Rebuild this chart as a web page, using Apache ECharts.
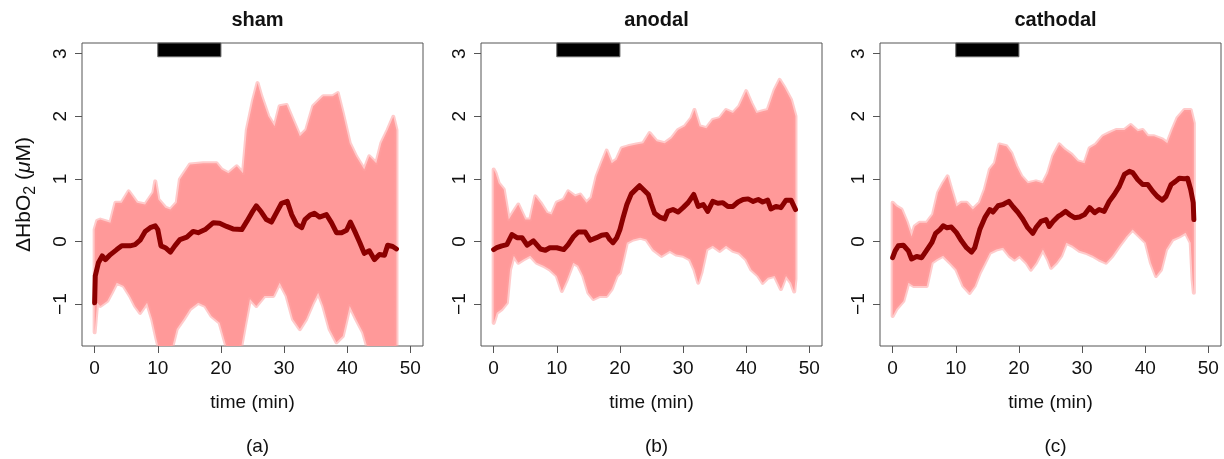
<!DOCTYPE html>
<html>
<head>
<meta charset="utf-8">
<script src="https://cdn.jsdelivr.net/npm/echarts@6/dist/echarts.min.js"></script>
<style>
html,body{margin:0;padding:0;background:#fff;}
#c{width:1224px;height:459px;}
</style>
</head>
<body>
<div id="c"></div>
<script>
// ---------------- data ----------------
const panelTitles = ['sham', 'anodal', 'cathodal'];
const panelTags = ['(a)', '(b)', '(c)'];
const xTicks = [0, 10, 20, 30, 40, 50];
const yTicks = [-1, 0, 1, 2, 3];
const stimStart = 10, stimEnd = 20;   // black stimulation bar (min)
const stimBarBottom = 2.95;

// sham: mean trace [time, value]
const shamMean = [[0,-0.98],[0.1,-0.55],[0.6,-0.34],[1.2,-0.23],[1.7,-0.29],[2.5,-0.21],[3.5,-0.13],[4.3,-0.07],[5.6,-0.07],[6.4,-0.05],[7.2,0.02],[8.0,0.16],[8.8,0.22],[9.6,0.25],[10,0.19],[10.5,-0.07],[11.2,-0.10],[12,-0.17],[12.7,-0.07],[13.5,0.03],[14.6,0.07],[15.6,0.16],[16.4,0.14],[17.5,0.19],[18.8,0.30],[19.8,0.29],[20.9,0.24],[21.9,0.20],[23.3,0.19],[24.1,0.32],[24.9,0.46],[25.6,0.57],[26.4,0.47],[27.2,0.35],[28,0.31],[28.8,0.46],[29.6,0.61],[30.5,0.64],[31.2,0.43],[32,0.27],[32.8,0.22],[33.3,0.35],[34.1,0.42],[34.8,0.45],[35.6,0.39],[36.7,0.43],[37.5,0.30],[38.3,0.14],[39.1,0.14],[39.9,0.18],[40.5,0.31],[41.2,0.16],[42,-0.02],[42.7,-0.19],[43.5,-0.15],[44.3,-0.29],[45.1,-0.21],[45.9,-0.22],[46.4,-0.06],[47.2,-0.08],[47.8,-0.12]];
// sham: upper / lower edge of the individual-trace cloud
const shamHi = [[0,0.19],[0.4,0.33],[0.9,0.35],[2.5,0.30],[3.3,0.62],[4.3,0.62],[5.4,0.80],[6.7,0.62],[8.0,0.59],[9.3,0.78],[9.6,0.96],[10.1,0.67],[11.2,0.54],[12.0,0.51],[13.0,0.62],[13.5,0.99],[15.1,1.23],[17.2,1.25],[19.3,1.25],[20.1,1.15],[21.2,1.09],[22.5,1.20],[23.5,1.09],[24.1,1.78],[25.1,2.26],[25.8,2.53],[26.4,2.32],[27.5,2.0],[28.5,1.84],[29.3,2.16],[30.4,2.18],[31.4,1.94],[32.5,1.68],[33.5,1.78],[34.6,2.16],[36.2,2.32],[37.7,2.32],[38.5,2.37],[39.3,2.05],[40.4,1.57],[41.4,1.36],[42.7,1.15],[43.5,1.36],[44.6,1.25],[45.4,1.57],[46.4,1.78],[47.3,1.99],[47.8,1.78]];
const shamLo = [[0,-1.45],[0.4,-0.98],[0.9,-1.03],[2.0,-0.95],[2.7,-0.82],[3.5,-0.66],[4.6,-0.71],[5.6,-0.87],[6.4,-1.03],[7.2,-1.14],[8.3,-0.98],[9.1,-1.24],[9.8,-1.56],[10.4,-1.8],[12.0,-1.8],[13.0,-1.40],[14.1,-1.24],[15.1,-1.08],[16.4,-0.98],[17.5,-1.03],[18.5,-1.19],[19.8,-1.30],[21.2,-1.8],[23.0,-1.8],[23.8,-1.35],[24.6,-0.92],[25.6,-1.03],[26.9,-0.87],[28.3,-0.87],[29.3,-0.66],[30.4,-0.87],[31.4,-1.24],[32.5,-1.40],[33.5,-1.24],[34.6,-0.98],[35.4,-0.82],[36.2,-1.03],[37.2,-1.40],[38.3,-1.61],[39.3,-1.51],[40.4,-1.03],[41.4,-1.24],[42.5,-1.45],[43.5,-1.8],[47.8,-1.8]];

// anodal
const anodalMean = [[0,-0.13],[0.5,-0.10],[1.3,-0.07],[2.1,-0.05],[2.9,0.11],[3.7,0.06],[4.5,0.06],[5.3,-0.06],[6.3,0.01],[7.4,-0.12],[8.2,-0.14],[8.9,-0.10],[10,-0.10],[11.1,-0.13],[11.8,-0.05],[12.6,0.07],[13.4,0.15],[14.5,0.15],[15.3,0.02],[16.3,0.06],[17.1,0.10],[17.9,0.11],[18.4,0.03],[18.9,-0.02],[19.5,0.06],[20.0,0.19],[20.5,0.38],[21.1,0.59],[21.8,0.76],[22.6,0.84],[23.1,0.89],[23.7,0.83],[24.5,0.75],[25.0,0.59],[25.5,0.45],[26.3,0.39],[27.1,0.36],[27.6,0.48],[28.4,0.51],[29.2,0.47],[30.0,0.54],[30.8,0.62],[31.7,0.75],[32.4,0.56],[33.2,0.59],[33.9,0.48],[34.7,0.64],[35.5,0.61],[36.3,0.62],[37.1,0.56],[37.9,0.56],[38.7,0.63],[39.5,0.67],[40.3,0.68],[41.1,0.64],[41.9,0.67],[42.6,0.63],[43.4,0.66],[43.9,0.52],[44.7,0.56],[45.5,0.54],[46.3,0.66],[47.1,0.66],[47.8,0.51]];
const anodalHi = [[0,1.15],[0.3,1.09],[0.8,0.93],[1.6,0.83],[2.4,0.35],[3.2,0.48],[3.9,0.59],[5.0,0.35],[5.8,0.35],[6.6,0.72],[7.4,0.62],[8.4,0.46],[9.2,0.43],[10,0.62],[11.1,0.67],[11.8,0.80],[12.9,0.72],[13.7,0.75],[14.7,0.62],[15.5,0.70],[16.3,1.04],[17.1,1.25],[17.9,1.45],[18.7,1.25],[19.5,1.31],[20.3,1.49],[21.3,1.52],[22.6,1.55],[23.7,1.57],[24.7,1.73],[25.8,1.60],[27.1,1.57],[28.2,1.65],[29.2,1.78],[30.3,1.84],[31.3,1.97],[31.8,2.10],[32.6,1.84],[33.7,1.81],[34.7,1.94],[35.8,1.97],[36.8,2.10],[37.9,2.05],[38.9,2.16],[40.0,2.40],[40.8,2.21],[41.6,2.05],[42.6,2.08],[43.4,2.10],[44.5,2.42],[45.3,2.58],[46.1,2.45],[47.1,2.26],[47.8,2.0]];
const anodalLo = [[0,-1.30],[0.5,-1.14],[1.3,-1.08],[2.1,-0.98],[2.6,-0.45],[3.2,-0.23],[3.9,-0.34],[4.7,-0.29],[5.8,-0.23],[6.8,-0.34],[7.9,-0.39],[8.9,-0.45],[10,-0.55],[10.8,-0.79],[11.6,-0.61],[12.6,-0.34],[13.4,-0.39],[14.2,-0.55],[15.0,-0.82],[15.8,-0.92],[16.8,-0.87],[17.9,-0.87],[18.7,-0.76],[19.5,-0.55],[20,-0.50],[20.5,-0.29],[21.1,-0.02],[22.1,0.03],[23.2,0.06],[24.2,0.03],[25.3,-0.13],[26.6,-0.23],[27.9,-0.15],[28.9,-0.21],[30.0,-0.23],[31.1,-0.29],[31.8,-0.45],[32.4,-0.66],[32.9,-0.50],[33.7,-0.13],[34.7,-0.07],[35.8,-0.15],[36.8,-0.07],[37.9,-0.15],[38.9,-0.18],[40.0,-0.29],[40.8,-0.45],[41.9,-0.55],[42.6,-0.66],[43.4,-0.58],[44.5,-0.55],[45.5,-0.76],[46.3,-0.55],[47.1,-0.66],[47.6,-0.80],[47.8,-0.60]];

// cathodal
const cathodalMean = [[0,-0.26],[0.4,-0.15],[0.9,-0.07],[1.7,-0.06],[2.5,-0.15],[3.0,-0.28],[3.8,-0.24],[4.6,-0.26],[5.4,-0.14],[6.2,-0.02],[6.8,0.13],[7.5,0.19],[8.0,0.25],[8.6,0.22],[9.3,0.23],[10.1,0.14],[10.9,0.01],[11.7,-0.10],[12.5,-0.17],[13.0,-0.10],[13.8,0.19],[14.6,0.38],[15.4,0.51],[15.9,0.47],[16.7,0.57],[17.5,0.59],[18.0,0.62],[18.4,0.64],[19.1,0.55],[19.8,0.47],[20.6,0.36],[21.4,0.22],[22.2,0.13],[22.7,0.22],[23.5,0.32],[24.3,0.35],[24.8,0.24],[25.4,0.32],[26.2,0.40],[26.7,0.43],[27.4,0.48],[28.0,0.43],[28.8,0.38],[29.6,0.39],[30.4,0.43],[31.2,0.54],[32.0,0.46],[32.7,0.51],[33.5,0.48],[34.3,0.64],[35.1,0.75],[35.9,0.88],[36.7,1.07],[37.5,1.12],[38.0,1.10],[38.8,0.99],[39.6,0.91],[40.4,0.91],[41.2,0.80],[41.9,0.72],[42.7,0.66],[43.3,0.72],[44.1,0.91],[44.8,0.96],[45.4,1.01],[46.2,1.00],[46.7,1.01],[47.2,0.83],[47.6,0.62],[47.7,0.35]];
const cathodalHi = [[0,0.62],[0.6,0.56],[1.4,0.51],[2.2,0.32],[3.0,0.08],[3.5,0.24],[4.3,0.30],[5.4,0.30],[6.4,0.43],[7.2,0.78],[8.0,0.93],[8.7,1.04],[9.3,0.83],[10.1,0.56],[10.9,0.62],[11.7,0.62],[12.7,0.51],[13.8,0.62],[14.6,0.83],[15.4,1.15],[16.2,1.25],[16.9,1.55],[18.0,1.52],[18.8,1.41],[19.6,1.20],[20.4,1.04],[21.4,0.93],[22.7,0.96],[23.8,0.93],[24.6,1.09],[25.4,1.36],[26.4,1.55],[27.2,1.47],[28.3,1.39],[29.3,1.28],[30.4,1.25],[31.2,1.49],[32.2,1.55],[33.3,1.68],[34.3,1.73],[35.4,1.78],[36.7,1.78],[37.7,1.86],[38.8,1.76],[39.6,1.78],[40.4,1.68],[41.4,1.68],[42.7,1.63],[43.5,1.57],[44.3,1.78],[45.1,1.97],[46.2,2.10],[47.2,2.10],[47.7,1.89]];
const cathodalLo = [[0,-1.19],[0.6,-1.08],[1.7,-0.95],[2.5,-0.66],[3.3,-0.71],[4.3,-0.71],[5.4,-0.71],[6.2,-0.34],[6.9,-0.29],[8.0,-0.23],[9.1,-0.34],[10.1,-0.45],[11.2,-0.71],[12.2,-0.82],[13.0,-0.71],[13.8,-0.50],[14.6,-0.34],[15.4,-0.18],[16.4,-0.13],[17.5,-0.10],[18.5,-0.23],[19.3,-0.29],[20.1,-0.23],[21.2,-0.34],[21.9,-0.45],[22.7,-0.34],[23.8,-0.13],[24.6,-0.29],[25.1,-0.42],[25.9,-0.34],[26.7,-0.23],[27.5,-0.02],[28.5,-0.07],[29.6,-0.15],[30.6,-0.18],[31.7,-0.23],[32.7,-0.29],[33.8,-0.34],[34.8,-0.23],[35.9,-0.07],[37.0,0.08],[38.0,0.19],[39.1,0.08],[40.1,-0.02],[40.9,-0.34],[41.7,-0.55],[42.5,-0.45],[43.3,-0.13],[44.3,0.03],[45.4,0.08],[46.4,0.14],[47.2,-0.02],[47.5,-0.61],[47.7,-0.82]];

const meanSets = [shamMean, anodalMean, cathodalMean];
const hiSets = [shamHi, anodalHi, cathodalHi];
const loSets = [shamLo, anodalLo, cathodalLo];

// ---------------- layout / style ----------------
const FONT = "'Liberation Sans', Arial, Helvetica, sans-serif";
const gridLefts = [82, 481, 880];
const gridW = 341, gridTop = 43, gridH = 303;
const xMin = -2, xMax = 52, yMin = -1.67, yMax = 3.17;
const cloudColor = '#ff9999';
const cloudEdge = 'rgba(255,160,160,0.55)';
const meanColor = '#8b0000';
const frameColor = '#555';

const minusFmt = v => (v < 0 ? '\u2212' + Math.abs(v) : String(v));

const option = {
  animation: false,
  backgroundColor: '#fff',
  textStyle: { fontFamily: FONT },
  title: [],
  grid: [],
  xAxis: [],
  yAxis: [],
  series: []
};

for (let i = 0; i < 3; i++) {
  const cx = gridLefts[i] + gridW / 2;
  option.title.push({
    text: panelTitles[i], left: cx, top: 5, textAlign: 'center',
    textStyle: { fontFamily: FONT, fontSize: 20, fontWeight: 'bold', color: '#111' }
  });
  option.title.push({
    text: panelTags[i], left: cx, top: 432, textAlign: 'center',
    textStyle: { fontFamily: FONT, fontSize: 19, fontWeight: 'normal', color: '#111' }
  });
  option.grid.push({
    left: gridLefts[i], top: gridTop, width: gridW, height: gridH,
    show: true, borderColor: frameColor, borderWidth: 1, backgroundColor: 'transparent'
  });
  option.xAxis.push({
    type: 'value', gridIndex: i, min: xMin, max: xMax, position: 'bottom',
    axisLine: { show: false, onZero: false }, splitLine: { show: false },
    axisTick: { show: true, length: 7, customValues: xTicks, lineStyle: { color: frameColor } },
    axisLabel: { customValues: xTicks, fontSize: 19, color: '#111', margin: 13, fontFamily: FONT },
    name: 'time (min)', nameLocation: 'middle', nameGap: 47,
    nameTextStyle: { fontSize: 19, color: '#111', fontFamily: FONT }
  });
  const ya = {
    type: 'value', gridIndex: i, min: yMin, max: yMax, position: 'left',
    axisLine: { show: false, onZero: false }, splitLine: { show: false },
    axisTick: { show: true, length: 7, customValues: yTicks, lineStyle: { color: frameColor } },
    axisLabel: { customValues: yTicks, rotate: 90, fontSize: 19, color: '#111', margin: 12,
                 fontFamily: FONT, formatter: minusFmt }
  };
  if (i === 0) {
    ya.name = '{n|\u0394HbO}{s|2}{n| (}{i|\u03bc}{n|M)}';
    ya.nameLocation = 'middle';
    ya.nameGap = 43;
    ya.nameRotate = 90;
    ya.nameTextStyle = {
      fontFamily: FONT, color: '#111',
      rich: {
        n: { fontSize: 21, lineHeight: 30, fontFamily: FONT, color: '#111' },
        s: { fontSize: 16, lineHeight: 16, verticalAlign: 'bottom', fontFamily: FONT, color: '#111' },
        i: { fontSize: 21, lineHeight: 30, fontStyle: 'italic', fontFamily: FONT, color: '#111' }
      }
    };
  }
  option.yAxis.push(ya);

  const hi = hiSets[i], lo = loSets[i];
  option.series.push({
    type: 'custom', xAxisIndex: i, yAxisIndex: i, clip: true, silent: true, z: 1,
    data: [[hi[0][0], hi[0][1]]],
    renderItem: function (params, api) {
      const pts = [];
      for (let k = 0; k < hi.length; k++) pts.push(api.coord(hi[k]));
      for (let k = lo.length - 1; k >= 0; k--) pts.push(api.coord(lo[k]));
      return {
        type: 'polygon', shape: { points: pts },
        style: { fill: cloudColor, stroke: cloudEdge, lineWidth: 4, lineJoin: 'round' }
      };
    }
  });
  option.series.push({
    type: 'line', xAxisIndex: i, yAxisIndex: i, data: meanSets[i],
    showSymbol: false, z: 3,
    lineStyle: { color: meanColor, width: 5, join: 'round', cap: 'round' },
    markArea: {
      silent: true,
      label: { show: false },
      itemStyle: { color: '#000', borderColor: '#666', borderWidth: 1 },
      data: [[{ coord: [stimStart, stimBarBottom] }, { coord: [stimEnd, yMax] }]]
    }
  });
}

const chart = echarts.init(document.getElementById('c'), null, { renderer: 'canvas' });
chart.setOption(option);
</script>
</body>
</html>
